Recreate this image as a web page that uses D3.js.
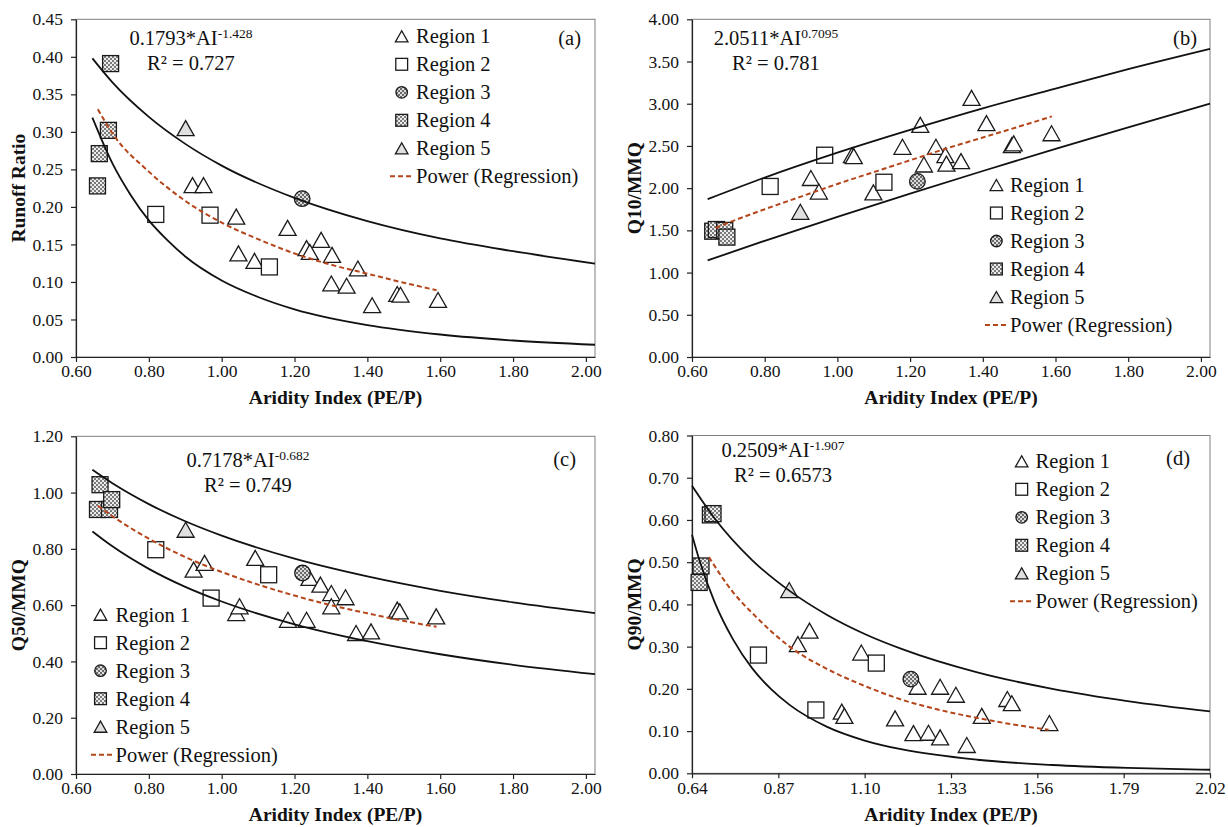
<!DOCTYPE html>
<html><head><meta charset="utf-8">
<script src="https://cdn.jsdelivr.net/npm/d3@7"></script>
<style>
body{margin:0;background:#fff;}
svg text{font-family:"Liberation Serif","Times New Roman",serif;fill:#111;}
</style></head><body>
<svg id="c" width="1228" height="827"></svg>
<script>
// ---------- tick labels ----------
const xTicksStd = [0.60, 0.80, 1.00, 1.20, 1.40, 1.60, 1.80, 2.00];
const xTicksD = [0.64, 0.87, 1.10, 1.33, 1.56, 1.79, 2.02];
const yTicksA = [0, 0.05, 0.10, 0.15, 0.20, 0.25, 0.30, 0.35, 0.40, 0.45];
const yTicksB = [0, 0.5, 1.0, 1.5, 2.0, 2.5, 3.0, 3.5, 4.0];
const yTicksC = [0, 0.2, 0.4, 0.6, 0.8, 1.0, 1.2];
const yTicksD = [0, 0.1, 0.2, 0.3, 0.4, 0.5, 0.6, 0.7, 0.8];
const regionNames = ["Region 1", "Region 2", "Region 3", "Region 4", "Region 5"];
const trendName = "Power (Regression)";
const xTitle = "Aridity Index (PE/P)";

// ---------- panel (a) Runoff Ratio ----------
const aR1 = [[0.920,0.229],[0.950,0.229],[1.040,0.187],[1.046,0.138],[1.090,0.128],[1.181,0.172],[1.233,0.145],[1.242,0.140],[1.273,0.156],[1.303,0.136],[1.301,0.098],[1.343,0.095],[1.374,0.118],[1.413,0.069],[1.482,0.084],[1.491,0.083],[1.594,0.076]];
const aR2 = [[0.819,0.190],[0.968,0.189],[1.131,0.120]];
const aR3 = [[1.221,0.211]];
const aR4 = [[0.659,0.228],[0.664,0.271],[0.689,0.302],[0.695,0.391]];
const aR5 = [[0.901,0.305]];
const aTrend = [[0.66,0.330],[0.70,0.298],[0.80,0.247],[0.90,0.208],[1.00,0.179],[1.10,0.157],[1.20,0.138],[1.30,0.123],[1.40,0.111],[1.50,0.099],[1.59,0.089]];
const aUpper = [[0.645,0.398],[0.70,0.366],[0.80,0.320],[0.90,0.284],[1.00,0.255],[1.20,0.212],[1.40,0.181],[1.60,0.158],[1.80,0.141],[2.025,0.1245]];
const aLower = [[0.645,0.319],[0.70,0.258],[0.75,0.216],[0.80,0.182],[0.85,0.156],[0.90,0.134],[1.00,0.102],[1.10,0.080],[1.20,0.0635],[1.40,0.0425],[1.60,0.030],[1.80,0.022],[2.025,0.0163]];
const aEq = ["0.1793*AI", "-1.428", "R² = 0.727"];

// ---------- panel (b) Q10/MMQ ----------
const bR1 = [[0.927,2.12],[0.949,1.96],[1.040,2.39],[1.045,2.38],[1.099,1.95],[1.179,2.49],[1.228,2.75],[1.238,2.28],[1.271,2.49],[1.297,2.39],[1.300,2.29],[1.340,2.32],[1.369,3.07],[1.410,2.77],[1.480,2.51],[1.485,2.53],[1.589,2.65]];
const bR2 = [[0.815,2.02],[0.965,2.39],[1.128,2.07]];
const bR3 = [[1.220,2.08]];
const bR4 = [[0.657,1.49],[0.667,1.51],[0.690,1.50],[0.696,1.42]];
const bR5 = [[0.898,1.72]];
const bTrend = [[0.665,1.53],[0.70,1.59],[0.80,1.75],[0.90,1.90],[1.00,2.05],[1.10,2.19],[1.20,2.33],[1.30,2.47],[1.40,2.60],[1.50,2.73],[1.59,2.85]];
const bUpper = [[0.643,1.87],[0.80,2.125],[1.00,2.42],[1.20,2.69],[1.40,2.945],[1.60,3.18],[1.80,3.41],[2.025,3.65]];
const bLower = [[0.643,1.144],[0.80,1.376],[1.00,1.66],[1.20,1.935],[1.40,2.203],[1.60,2.465],[1.80,2.72],[2.025,3.00]];
const bEq = ["2.0511*AI", "0.7095", "R² = 0.781"];

// ---------- panel (c) Q50/MMQ ----------
const cR1 = [[0.923,0.726],[0.953,0.750],[1.040,0.572],[1.049,0.596],[1.092,0.768],[1.182,0.548],[1.233,0.548],[1.241,0.697],[1.271,0.673],[1.301,0.643],[1.301,0.596],[1.340,0.628],[1.369,0.501],[1.410,0.507],[1.482,0.584],[1.489,0.578],[1.589,0.560]];
const cR2 = [[0.819,0.797],[0.971,0.625],[1.129,0.708]];
const cR3 = [[1.222,0.714]];
const cR4 = [[0.659,0.940],[0.666,1.028],[0.692,0.940],[0.698,0.975]];
const cR5 = [[0.901,0.868]];
const cTrend = [[0.66,0.953],[0.70,0.916],[0.80,0.836],[0.90,0.771],[1.00,0.718],[1.10,0.673],[1.20,0.634],[1.30,0.600],[1.40,0.571],[1.50,0.544],[1.59,0.523]];
const cUpper = [[0.645,1.081],[0.70,1.033],[0.80,0.959],[0.90,0.898],[1.00,0.847],[1.20,0.765],[1.40,0.702],[1.60,0.651],[1.80,0.610],[2.025,0.572]];
const cLower = [[0.645,0.862],[0.70,0.809],[0.80,0.729],[0.90,0.665],[1.00,0.613],[1.20,0.532],[1.40,0.472],[1.60,0.4255],[1.80,0.388],[2.025,0.355]];
const cEq = ["0.7178*AI", "-0.682", "R² = 0.749"];

// ---------- panel (d) Q90/MMQ ----------
const dR1 = [[0.922,0.306],[0.953,0.338],[1.039,0.146],[1.046,0.136],[1.091,0.286],[1.181,0.130],[1.230,0.095],[1.241,0.205],[1.270,0.096],[1.301,0.205],[1.301,0.085],[1.343,0.186],[1.372,0.067],[1.412,0.136],[1.480,0.176],[1.492,0.166],[1.592,0.119]];
const dR2 = [[0.817,0.280],[0.970,0.150],[1.131,0.261]];
const dR3 = [[1.223,0.223]];
const dR4 = [[0.659,0.452],[0.664,0.491],[0.689,0.612],[0.696,0.615]];
const dR5 = [[0.899,0.434]];
const dTrend = [[0.685,0.512],[0.75,0.428],[0.80,0.380],[0.90,0.300],[1.00,0.247],[1.10,0.207],[1.20,0.174],[1.30,0.150],[1.40,0.131],[1.50,0.115],[1.59,0.103]];
const dUpper = [[0.64,0.681],[0.70,0.604],[0.80,0.505],[0.90,0.432],[1.00,0.375],[1.10,0.330],[1.20,0.294],[1.40,0.239],[1.60,0.200],[1.80,0.171],[2.02,0.1465]];
const dLower = [[0.64,0.565],[0.66,0.504],[0.70,0.406],[0.75,0.316],[0.80,0.249],[0.85,0.200],[0.90,0.162],[1.00,0.110],[1.10,0.0776],[1.20,0.0564],[1.40,0.0321],[1.60,0.0197],[1.80,0.0128],[2.02,0.0084]];
const dEq = ["0.2509*AI", "-1.907", "R² = 0.6573"];

// ---------- drawing ----------
const svg = d3.select("#c");
const defs = svg.append("defs");
function checker(id, bg, fg) {
  const p = defs.append("pattern").attr("id", id).attr("width", 4).attr("height", 4)
    .attr("patternUnits", "userSpaceOnUse");
  p.append("rect").attr("width", 4).attr("height", 4).attr("fill", bg);
  p.append("rect").attr("width", 2).attr("height", 2).attr("fill", fg);
  p.append("rect").attr("x", 2).attr("y", 2).attr("width", 2).attr("height", 2).attr("fill", fg);
}
checker("pat4", "#ececec", "#7a7a7a");
checker("pat3", "#dcdcdc", "#6a6a6a");

const TREND_COLOR = "#b5451b";
const STROKE = "#1a1a1a";
const FS = 20.5;

function triPath(w, h) { return `M0,${-h/2}L${w/2},${h/2}L${-w/2},${h/2}Z`; }
function marker(g, kind, x, y, small) {
  const s = small ? 0.74 : 1;
  if (kind === 0 || kind === 4) {
    g.append("path").attr("d", triPath(17*s, 15*s)).attr("transform", `translate(${x},${y})`)
      .attr("fill", kind === 4 ? "#e0e0e0" : "#fff").attr("stroke", STROKE).attr("stroke-width", 1.3);
  } else if (kind === 1 || kind === 3) {
    const w = 16*s;
    g.append("rect").attr("x", x - w/2).attr("y", y - w/2).attr("width", w).attr("height", w)
      .attr("fill", kind === 3 ? "url(#pat4)" : "#fff").attr("stroke", STROKE).attr("stroke-width", 1.3);
  } else {
    g.append("circle").attr("cx", x).attr("cy", y).attr("r", 7.8*s)
      .attr("fill", "url(#pat3)").attr("stroke", STROKE).attr("stroke-width", 1.3);
  }
}

const panels = [
  {x0:76, x1:595, yT:19.3, yB:357, xd:[0.6,2.025], yd:[0,0.45], xt:xTicksStd, yt:yTicksA, yl:"Runoff Ratio", ylx:18, xtY:404,
   S:[aR1,aR2,aR3,aR4,aR5], tr:aTrend, up:aUpper, lo:aLower, eq:aEq, eqx:191, eqy:[45,70], tag:"(a)", tagx:581, tagy:45,
   lg:{sx:401.7, tx:416, y0:36.3, d0:390, d1:413}},
  {x0:692, x1:1210, yT:19.3, yB:357, xd:[0.6,2.025], yd:[0,4], xt:xTicksStd, yt:yTicksB, yl:"Q10/MMQ", ylx:634, xtY:404,
   S:[bR1,bR2,bR3,bR4,bR5], tr:bTrend, up:bUpper, lo:bLower, eq:bEq, eqx:776, eqy:[45,70], tag:"(b)", tagx:1197, tagy:45,
   lg:{sx:996.4, tx:1010, y0:185, d0:985, d1:1009}},
  {x0:76, x1:595, yT:436.3, yB:774, xd:[0.6,2.025], yd:[0,1.2], xt:xTicksStd, yt:yTicksC, yl:"Q50/MMQ", ylx:18, xtY:821,
   S:[cR1,cR2,cR3,cR4,cR5], tr:cTrend, up:cUpper, lo:cLower, eq:cEq, eqx:248, eqy:[467,492], tag:"(c)", tagx:576, tagy:466,
   lg:{sx:100.5, tx:115.5, y0:614.7, d0:91, d1:114}},
  {x0:692, x1:1210, yT:435.5, yB:773.3, xd:[0.64,2.02], yd:[0,0.8], xt:xTicksD, yt:yTicksD, yl:"Q90/MMQ", ylx:634, xtY:821,
   S:[dR1,dR2,dR3,dR4,dR5], tr:dTrend, up:dUpper, lo:dLower, eq:dEq, eqx:783, eqy:[457,482], tag:"(d)", tagx:1190, tagy:465,
   lg:{sx:1021.7, tx:1035.5, y0:461.3, d0:1010, d1:1032}}
];

const fmt = d3.format(".2f");
panels.forEach(p => {
  const x = d3.scaleLinear().domain(p.xd).range([p.x0, p.x1]);
  const y = d3.scaleLinear().domain(p.yd).range([p.yB, p.yT]);
  const g = svg.append("g");

  // frame
  g.append("rect").attr("x", p.x0).attr("y", p.yT).attr("width", p.x1 - p.x0).attr("height", p.yB - p.yT)
    .attr("fill", "none").attr("stroke", "#7f7f7f").attr("stroke-width", 1);

  // axes
  const ax = g.append("g").attr("transform", `translate(0,${p.yB})`)
    .call(d3.axisBottom(x).tickValues(p.xt).tickFormat(fmt).tickSize(5).tickSizeOuter(0).tickPadding(3));
  const ay = g.append("g").attr("transform", `translate(${p.x0},0)`)
    .call(d3.axisLeft(y).tickValues(p.yt).tickFormat(fmt).tickSize(5).tickSizeOuter(0).tickPadding(8));
  [ax, ay].forEach(a => {
    a.selectAll("path.domain").attr("stroke", "#222").attr("stroke-width", 1.2);
    a.selectAll(".tick line").attr("stroke", "#222").attr("stroke-width", 1.2);
    a.selectAll(".tick text").attr("font-size", 17.5).attr("fill", "#111")
      .attr("font-family", "'Liberation Serif','Times New Roman',serif");
  });

  // axis titles
  g.append("text").attr("x", (p.x0 + p.x1) / 2).attr("y", p.xtY).attr("text-anchor", "middle")
    .attr("font-size", 19.5).attr("font-weight", "bold").text(xTitle);
  g.append("text").attr("transform", `translate(${p.ylx},${(p.yT + p.yB) / 2}) rotate(-90)`)
    .attr("text-anchor", "middle").attr("dy", "0.35em")
    .attr("font-size", 19.5).attr("font-weight", "bold").text(p.yl);

  // markers
  const mg = g.append("g");
  p.S.forEach((arr, k) => arr.forEach(d => marker(mg, k, x(d[0]), y(d[1]), false)));

  // curves
  const line = d3.line().x(d => x(d[0])).y(d => y(d[1])).curve(d3.curveMonotoneX);
  [p.up, p.lo].forEach(arr => g.append("path").attr("d", line(arr)).attr("fill", "none")
    .attr("stroke", "#111").attr("stroke-width", 1.8));
  g.append("path").attr("d", line(p.tr)).attr("fill", "none")
    .attr("stroke", TREND_COLOR).attr("stroke-width", 2).attr("stroke-dasharray", "5,3");

  // equation
  const t1 = g.append("text").attr("x", p.eqx).attr("y", p.eqy[0]).attr("text-anchor", "middle").attr("font-size", FS);
  t1.append("tspan").text(p.eq[0]);
  t1.append("tspan").attr("font-size", 13.5).attr("dy", -7.5).text(p.eq[1]);
  g.append("text").attr("x", p.eqx).attr("y", p.eqy[1]).attr("text-anchor", "middle").attr("font-size", FS).text(p.eq[2]);

  // tag
  g.append("text").attr("x", p.tagx).attr("y", p.tagy).attr("text-anchor", "end").attr("font-size", FS).text(p.tag);

  // legend
  const lg = g.append("g");
  regionNames.forEach((nm, i) => {
    const cy = p.lg.y0 + 28 * i;
    marker(lg, i, p.lg.sx, cy, true);
    lg.append("text").attr("x", p.lg.tx).attr("y", cy + 6.8).attr("font-size", FS).text(nm);
  });
  const cyT = p.lg.y0 + 28 * 5;
  lg.append("line").attr("x1", p.lg.d0).attr("x2", p.lg.d1).attr("y1", cyT).attr("y2", cyT)
    .attr("stroke", TREND_COLOR).attr("stroke-width", 2).attr("stroke-dasharray", "5,3");
  lg.append("text").attr("x", p.lg.tx).attr("y", cyT + 6.8).attr("font-size", FS).text(trendName);
});
</script>
</body></html>
